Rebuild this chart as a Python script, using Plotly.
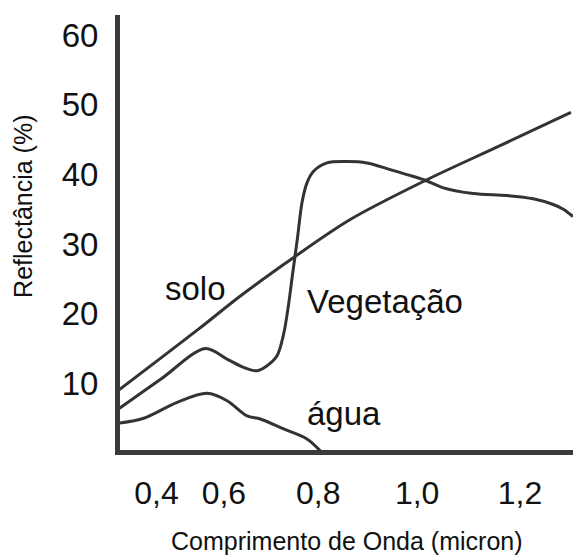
import plotly.graph_objects as go

# ---- data (wavelength in micron, reflectance in %) ----
solo_x = [0.4175, 0.5748, 0.6563, 0.7592, 0.8699, 1.0155, 1.1612, 1.2990]
solo_y = [8.87, 17.76, 22.53, 28.03, 33.52, 39.11, 44.13, 48.90]

veg_x = [0.4194, 0.502, 0.5883, 0.6305, 0.6627, 0.6887, 0.7082, 0.7276, 0.7404,
         0.7501, 0.7573, 0.767, 0.7761, 0.7858, 0.7986, 0.8247, 0.8635, 0.9023,
         0.9476, 0.98, 1.0155, 1.0511, 1.1093, 1.1742, 1.2258, 1.2647, 1.2841, 1.3029]
veg_y = [6.29, 10.6, 14.99, 13.46, 12.27, 11.78, 12.5, 13.93, 17.04,
         21.34, 25.4, 30.66, 35.92, 38.78, 40.45, 41.65, 41.84, 41.65,
         40.69, 39.97, 39.16, 38.07, 37.25, 36.96, 36.5, 35.67, 35.0, 33.95]

agua_x = [0.4194, 0.4685, 0.5334, 0.5917, 0.6305, 0.6693, 0.6951, 0.7404, 0.7858, 0.8117]
agua_y = [4.24, 4.96, 7.25, 8.54, 7.48, 5.29, 4.86, 3.43, 1.99, 0.27]

x_tick_pos = [0.4932, 0.6243, 0.8078, 1.0, 1.2]
x_tick_text = ["0,4", "0,6", "0,8", "1,0", "1,2"]
y_tick_vals = [10, 20, 30, 40, 50, 60]

labels = ["solo", "Vegetação", "água"]
label_x = [0.5700, 0.9379, 0.8583]
label_y = [23.6, 21.8, 5.6]

FONT = "Liberation Sans, Arial, Helvetica, sans-serif"
LINE = "#333333"
TXT = "#111111"

fig = go.Figure()
for xs, ys in [(solo_x, solo_y), (veg_x, veg_y), (agua_x, agua_y)]:
    fig.add_trace(go.Scatter(x=xs, y=ys, mode="lines",
                             line=dict(color=LINE, width=3, shape="spline", smoothing=0.9),
                             hoverinfo="skip", showlegend=False))

for t, lx, ly in zip(labels, label_x, label_y):
    fig.add_annotation(x=lx, y=ly, text=t, showarrow=False,
                       xanchor="center", yanchor="middle",
                       font=dict(family=FONT, size=33, color=TXT))

fig.add_annotation(xref="paper", yref="paper", x=0.5, y=-0.209, text="Comprimento de Onda (micron)",
                   showarrow=False, xanchor="center", yanchor="middle",
                   font=dict(family=FONT, size=25, color=TXT))
fig.add_annotation(xref="paper", yref="paper", x=-0.213, y=0.56, text="Reflectância (%)",
                   showarrow=False, xanchor="center", yanchor="middle", textangle=-90,
                   font=dict(family=FONT, size=25, color=TXT))

fig.update_xaxes(range=[0.4223, 1.303], showgrid=False, zeroline=False,
                 showline=True, linecolor="#3a3a3a", linewidth=5,
                 tickmode="array", tickvals=x_tick_pos, ticktext=x_tick_text,
                 ticks="", ticklabelstandoff=11,
                 tickfont=dict(family=FONT, size=32, color=TXT))
fig.update_yaxes(range=[0.4, 62.9], showgrid=False, zeroline=False,
                 showline=True, linecolor="#3a3a3a", linewidth=5,
                 tickmode="array", tickvals=y_tick_vals,
                 ticks="", ticklabelstandoff=10,
                 tickfont=dict(family=FONT, size=33, color=TXT))

fig.update_layout(width=573, height=558,
                  margin=dict(l=120, r=0, t=15, b=108, autoexpand=False),
                  paper_bgcolor="white", plot_bgcolor="white")

fig.write_html("out.html", config={"displayModeBar": False, "staticPlot": True},
               post_script="document.body.style.margin='0';document.body.style.overflow='hidden';")
